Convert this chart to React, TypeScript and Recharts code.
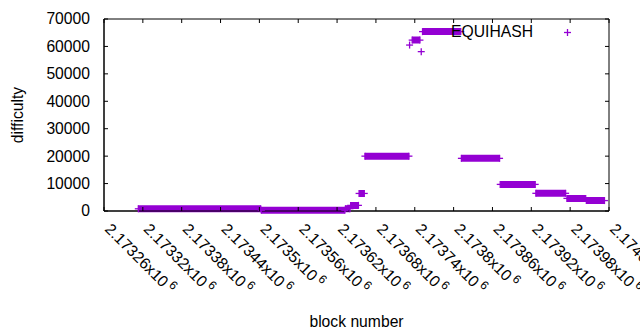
import React from "react";
import { ComposedChart, Line, Scatter, XAxis, YAxis, ReferenceArea, Legend } from "recharts";

// difficulty stays flat over runs of blocks: first block, last block, value
const segStart = [2173313, 2173503, 2173633, 2173641, 2173654, 2173663, 2173736, 2173752, 2173812, 2173872, 2173927, 2173975, 2174005];
const segEnd = [2173502, 2173632, 2173640, 2173653, 2173662, 2173731, 2173748, 2173811, 2173871, 2173926, 2173973, 2174004, 2174033];
const segValue = [800, 260, 850, 2050, 6400, 20000, 62300, 65400, 19200, 9700, 6450, 4600, 3800];

// single blocks off the runs
const spikeBlocks = [2173732, 2173750];
const spikeValues = [60500, 58100];

const blockTicks = [2173260, 2173320, 2173380, 2173440, 2173500, 2173560, 2173620, 2173680, 2173740, 2173800, 2173860, 2173920, 2173980, 2174040];
const blockTickLabels = ["2.17326", "2.17332", "2.17338", "2.17344", "2.1735", "2.17356", "2.17362", "2.17368", "2.17374", "2.1738", "2.17386", "2.17392", "2.17398", "2.17404"];
const difficultyTicks = [0, 10000, 20000, 30000, 40000, 50000, 60000, 70000];

const seriesName = "EQUIHASH";

const PURPLE = "#9400D3";
const FONT = "'Liberation Sans', Arial, sans-serif";
const FS = 15.7;
const PLOT_W = 505;
const PLOT_H = 192;

const stepRows = segStart.flatMap((s, i) => [
  { block: s, difficulty: segValue[i] },
  { block: segEnd[i], difficulty: segValue[i] },
  { block: segEnd[i] + 0.5, difficulty: null },
]);
const spikeRows = spikeBlocks.map((b, i) => ({ block: b, difficulty: spikeValues[i] }));

function Plus(props: any) {
  const { cx, cy } = props;
  if (cx == null || cy == null || props.value == null && props.payload?.difficulty == null) return <g />;
  return (
    <g stroke={PURPLE} strokeWidth={1.3}>
      <line x1={cx - 3.5} x2={cx + 3.5} y1={cy} y2={cy} />
      <line x1={cx} x2={cx} y1={cy - 3.5} y2={cy + 3.5} />
    </g>
  );
}

function XTick({ x, y, payload }: any) {
  const i = blockTicks.indexOf(payload.value);
  return (
    <g>
      <line x1={x} x2={x} y1={y} y2={y - 4} stroke="#000" />
      <line x1={x} x2={x} y1={y - PLOT_H} y2={y - PLOT_H + 4} stroke="#000" />
      <text transform={`translate(${x},${y + 19}) rotate(45)`} fontFamily={FONT} fontSize={FS} fill="#000">
        {blockTickLabels[i]}x10
        <tspan dx={3} dy={-6} fontSize={12}>6</tspan>
      </text>
    </g>
  );
}

function YTick({ x, y, payload }: any) {
  return (
    <g>
      <line x1={x} x2={x + 4} y1={y} y2={y} stroke="#000" />
      <line x1={x + PLOT_W} x2={x + PLOT_W - 4} y1={y} y2={y} stroke="#000" />
      <text x={x - 14} y={y} dy="0.35em" textAnchor="end" fontFamily={FONT} fontSize={FS} fill="#000">
        {payload.value}
      </text>
    </g>
  );
}

function LegendBox() {
  return (
    <div style={{ display: "flex", alignItems: "center", fontFamily: FONT, fontSize: FS, color: "#000", height: 22 }}>
      <span style={{ width: 93, textAlign: "right" }}>{seriesName}</span>
      <svg width={47} height={22}>
        <g stroke={PURPLE} strokeWidth={1.3}>
          <line x1={31} x2={38} y1={11.5} y2={11.5} />
          <line x1={34.5} x2={34.5} y1={8} y2={15} />
        </g>
      </svg>
    </div>
  );
}

export default function App() {
  return (
    <div style={{ position: "absolute", left: 0, top: 0, width: 640, height: 330, background: "#fff" }}>
      <ComposedChart width={640} height={330} margin={{ top: 19, right: 31, bottom: 0, left: 0 }}>
        <XAxis
          dataKey="block"
          type="number"
          domain={[blockTicks[0], blockTicks[blockTicks.length - 1]]}
          ticks={blockTicks}
          interval={0}
          height={119}
          tickSize={0}
          tickMargin={0}
          tickLine={false}
          axisLine={{ stroke: "#000" }}
          tick={<XTick />}
          label={{
            content: ({ viewBox }: any) => (
              <text x={viewBox.x + viewBox.width / 2} y={viewBox.y + 110} textAnchor="middle" dominantBaseline="central" fontFamily={FONT} fontSize={FS} fill="#000">
                block number
              </text>
            ),
          }}
        />
        <YAxis
          type="number"
          domain={[0, 70000]}
          ticks={difficultyTicks}
          interval={0}
          width={104}
          tickSize={0}
          tickMargin={0}
          tickLine={false}
          axisLine={{ stroke: "#000" }}
          tick={<YTick />}
          label={{
            content: ({ viewBox }: any) => {
              const cx = 17.5;
              const cy = viewBox.y + viewBox.height / 2;
              return (
                <text x={cx} y={cy} transform={`rotate(-90 ${cx} ${cy})`} textAnchor="middle" dominantBaseline="central" fontFamily={FONT} fontSize={FS} fill="#000">
                  difficulty
                </text>
              );
            },
          }}
        />
        <ReferenceArea x1={blockTicks[0]} x2={blockTicks[blockTicks.length - 1]} y1={0} y2={70000} fill="none" stroke="#000" strokeWidth={1} />
        <Line
          data={stepRows}
          dataKey="difficulty"
          name={seriesName}
          stroke={PURPLE}
          strokeWidth={7}
          strokeLinecap="butt"
          connectNulls={false}
          dot={<Plus />}
          activeDot={false}
          isAnimationActive={false}
          legendType="none"
        />
        <Scatter data={spikeRows} dataKey="difficulty" fill={PURPLE} shape={<Plus />} isAnimationActive={false} legendType="none" />
        <Legend
          layout="horizontal"
          verticalAlign="middle"
          align="center"
          content={<LegendBox />}
          wrapperStyle={{ top: 21, left: 440, width: 140, height: 22 }}
        />
      </ComposedChart>
    </div>
  );
}
